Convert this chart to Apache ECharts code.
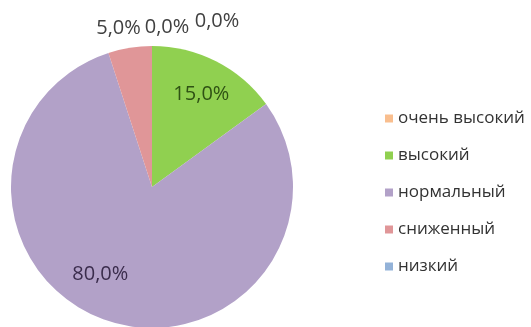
<!DOCTYPE html>
<html>
<head>
<meta charset="utf-8">
<script src="https://cdn.jsdelivr.net/npm/echarts@6/dist/echarts.min.js"></script>
<style>
html,body{margin:0;padding:0;background:#fff;}
#chart{width:531px;height:327px;}
</style>
</head>
<body>
<div id="chart"></div>
<script>
const categories = ['очень высокий', 'высокий', 'нормальный', 'сниженный', 'низкий'];
const values = [0, 15, 80, 5, 0];
const colors = ['#F9BE8E', '#90D050', '#B2A1C8', '#E09698', '#93B2D8'];
const labelColors = ['#404040', '#2f5214', '#3A2C4C', '#404040', '#404040'];
// label nudges (style only), relative to the library's inside-label anchor
const labelShift = [[65, -92], [16, -27], [-29, 17], [-22, -86], [15, -86]];

const chart = echarts.init(document.getElementById('chart'), null, {renderer: 'canvas'});
const fmt = v => v.toFixed(1).replace('.', ',') + '%';

chart.setOption({
  animation: false,
  backgroundColor: '#ffffff',
  legend: {
    orient: 'vertical',
    left: 385,
    top: 110,
    padding: 0,
    itemWidth: 8,
    itemHeight: 8,
    itemGap: 20,
    icon: 'rect',
    textStyle: {fontFamily: 'Open Sans', fontSize: 17, color: '#333333', lineHeight: 16},
    data: categories
  },
  series: [{
    type: 'pie',
    center: [152, 187],
    radius: 141,
    startAngle: 90,
    clockwise: true,
    avoidLabelOverlap: false,
    stillShowZeroSum: true,
    label: {
      show: true,
      position: 'inside',
      fontFamily: 'Open Sans',
      fontSize: 20,
      formatter: p => fmt(p.value)
    },
    labelLine: {show: false},
    labelLayout: p => ({dx: labelShift[p.dataIndex][0], dy: labelShift[p.dataIndex][1]}),
    itemStyle: {borderWidth: 0},
    data: categories.map((n, i) => ({
      name: n,
      value: values[i],
      itemStyle: {color: colors[i]},
      label: {color: labelColors[i]}
    }))
  }]
});
</script>
</body>
</html>
